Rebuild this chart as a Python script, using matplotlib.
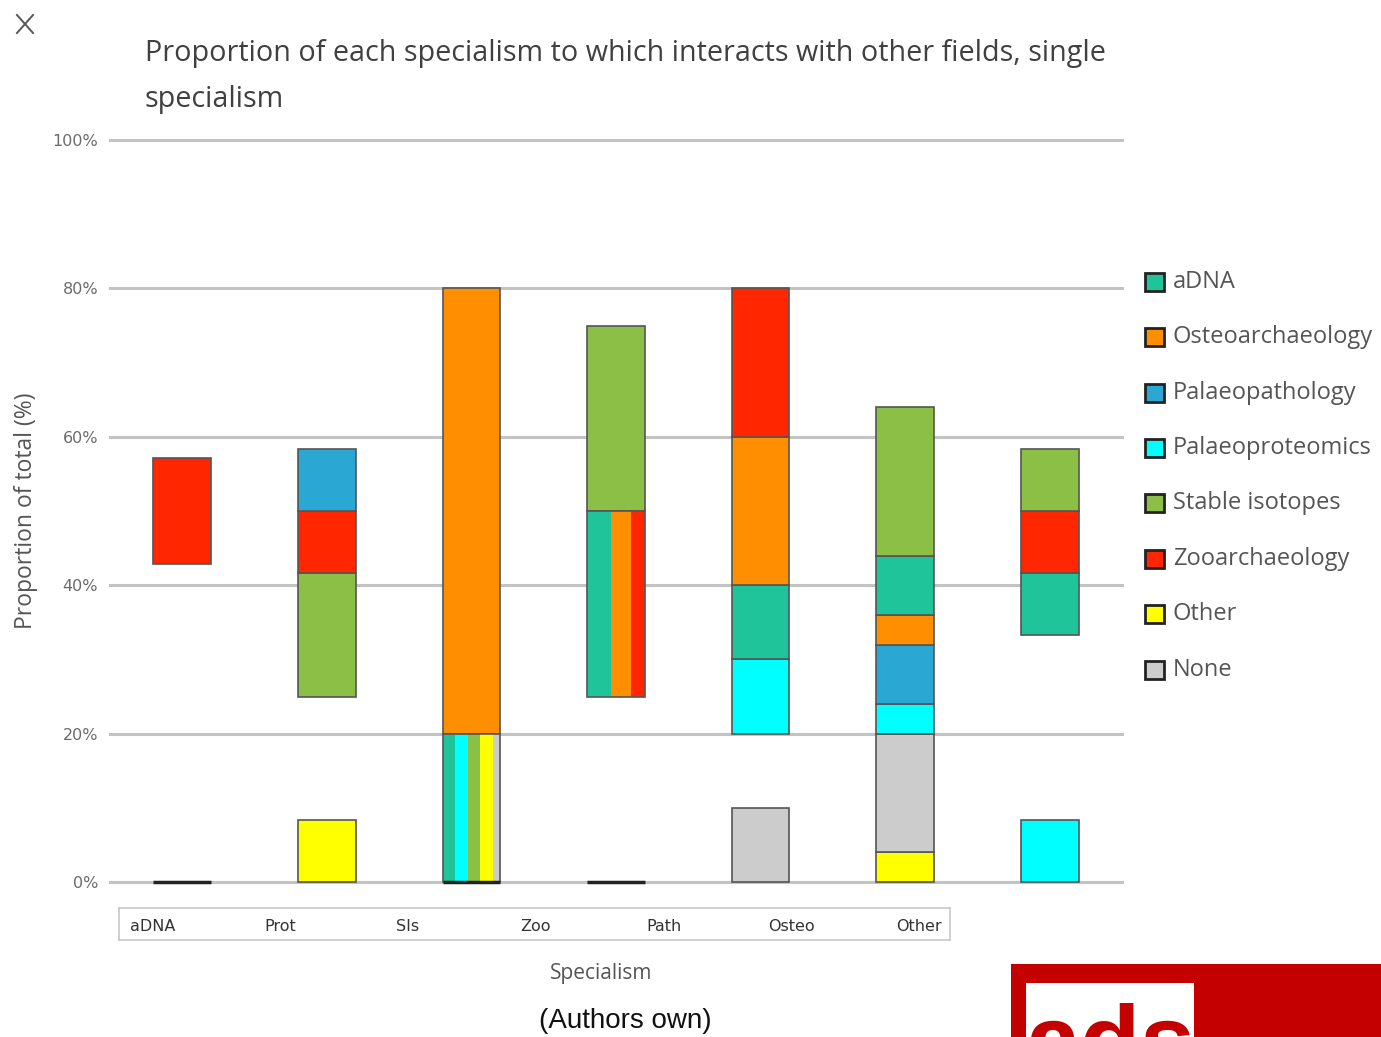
import matplotlib
matplotlib.use("Agg")
import matplotlib.pyplot as plt
from matplotlib.patches import Rectangle, Circle
from matplotlib.lines import Line2D

# ---- data -------------------------------------------------------------
specialisms = ["aDNA", "Prot", "SIs", "Zoo", "Path", "Osteo", "Other"]

series_names = ["aDNA", "Osteoarchaeology", "Palaeopathology", "Palaeoproteomics",
                "Stable isotopes", "Zooarchaeology", "Other", "None"]
series_colors = ["#1fc49a", "#ff8f00", "#2ba7d3", "#00ffff",
                 "#8cbf45", "#ff2600", "#ffff00", "#cccccc"]

# stacked segments per bar: (series, lower %, upper %)
bar_adna = [("Zooarchaeology", 42.86, 57.14)]
bar_prot = [("Other", 0, 8.33), ("Stable isotopes", 25, 41.67),
            ("Zooarchaeology", 41.67, 50), ("Palaeopathology", 50, 58.33)]
bar_sis = [("Osteoarchaeology", 20, 80)]
bar_zoo = [("Stable isotopes", 50, 75)]
bar_path = [("None", 0, 10), ("Palaeoproteomics", 20, 30), ("aDNA", 30, 40),
            ("Osteoarchaeology", 40, 60), ("Zooarchaeology", 60, 80)]
bar_osteo = [("Other", 0, 4), ("None", 4, 20), ("Palaeoproteomics", 20, 24),
             ("Palaeopathology", 24, 32), ("Osteoarchaeology", 32, 36),
             ("aDNA", 36, 44), ("Stable isotopes", 44, 64)]
bar_other = [("Palaeoproteomics", 0, 8.33), ("aDNA", 33.33, 41.67),
             ("Zooarchaeology", 41.67, 50), ("Stable isotopes", 50, 58.33)]
stacks = [bar_adna, bar_prot, bar_sis, bar_zoo, bar_path, bar_osteo, bar_other]

# shared ranges split side by side: (bar index, lower %, upper %, series, relative widths)
split_sis = (2, 0, 20, ["aDNA", "Palaeoproteomics", "Stable isotopes", "Other", "None"],
             [12, 13, 12, 13, 7])
split_zoo = (3, 25, 50, ["aDNA", "Osteoarchaeology", "Zooarchaeology"], [24, 20, 14])
splits = [split_sis, split_zoo]

# bars carrying an empty (0 %) entry
zero_bars = [0, 3]

yticks = [0, 20, 40, 60, 80, 100]
ytick_labels = ["0%", "20%", "40%", "60%", "80%", "100%"]

# ---- figure -----------------------------------------------------------
W, H = 1381, 1037
fig = plt.figure(figsize=(W / 100, H / 100), dpi=100)
fig.patch.set_facecolor("white")


def fx(x):
    return x / W


def fy(y):
    return 1 - y / H


colors = dict(zip(series_names, series_colors))
edge = "#555555"
bw = 0.4

ax = fig.add_axes([fx(110), fy(882), (1122 - 110) / W, (882 - 140) / H])
ax.set_xlim(-0.5, 6.5)
ax.set_ylim(0, 100)
ax.set_yticks(yticks)
ax.set_yticklabels(ytick_labels)
ax.set_xticks([])
ax.yaxis.grid(True, color="#c3c3c3", lw=2.2)
ax.set_axisbelow(True)
for gl in ax.get_ygridlines():
    gl.set_clip_on(False)
for s in ax.spines.values():
    s.set_visible(False)
ax.tick_params(axis="y", length=0, pad=8.5, labelsize=11.5, labelcolor="#6b6b6b")
for lab in ax.get_yticklabels():
    lab.set_family("DejaVu Sans")

for i, segs in enumerate(stacks):
    for name, lo, hi in segs:
        ax.bar(i, hi - lo, bottom=lo, width=bw, color=colors[name],
               edgecolor=edge, lw=1.2, clip_on=False, zorder=3)

for i, lo, hi, names, weights in splits:
    total = sum(weights)
    left = i - bw / 2
    for name, w in zip(names, weights):
        ww = bw * w / total
        ax.bar(left, hi - lo, bottom=lo, width=ww, align="edge",
               color=colors[name], edgecolor="none", clip_on=False, zorder=3)
        left += ww
    ax.bar(i, hi - lo, bottom=lo, width=bw, fill=False, edgecolor=edge,
           lw=1.2, clip_on=False, zorder=4)

for i in zero_bars + [2]:
    ax.bar(i, 0, width=bw, edgecolor="#222222", lw=2.5, clip_on=False, zorder=5)

# category box under the plot
bx = fig.add_axes([fx(119), fy(940), (950 - 119) / W, (940 - 908) / H])
bx.set_xlim(0, 6.5)
bx.set_ylim(0, 1)
bx.set_xticks([])
bx.set_yticks([])
for s in bx.spines.values():
    s.set_color("#c8c8c8")
    s.set_linewidth(1.2)
for k, name in enumerate(specialisms):
    bx.text(k + 0.26, 0.42, name, ha="center", va="center", fontsize=11.5,
            color="#333333", family=["Liberation Sans Narrow", "DejaVu Sans"])

# texts
title_font = ["Open Sans", "DejaVu Sans"]
fig.text(fx(145), fy(53), "Proportion of each specialism to which interacts with other fields, single",
         ha="left", va="center", fontsize=20.7, color="#404040", family=title_font)
fig.text(fx(145), fy(100), "specialism", ha="left", va="center", fontsize=20.7,
         color="#404040", family=title_font)
fig.text(fx(26), fy(511), "Proportion of total (%)", rotation=90, ha="center", va="center",
         fontsize=16.5, color="#555555", family=title_font)
fig.text(fx(601), fy(973), "Specialism", ha="center", va="center", fontsize=15,
         color="#555555", family=title_font)
fig.text(fx(625), fy(1021), "(Authors own)", ha="center", va="center", fontsize=20,
         color="#111111", family=["Liberation Sans", "DejaVu Sans"])

# legend
leg_y = [282, 337, 393, 448, 503, 559, 614, 670]
for name, col, y in zip(series_names, series_colors, leg_y):
    fig.add_artist(Rectangle((fx(1145), fy(y + 9)), 19 / W, 18 / H, facecolor=col,
                             edgecolor="#222222", lw=2, transform=fig.transFigure))
    fig.text(fx(1173), fy(y), name, ha="left", va="center", fontsize=17,
             color="#555555", family=title_font)

# close mark
fig.add_artist(Line2D([fx(17), fx(33)], [fy(15), fy(33)], color="#555555", lw=1.4))
fig.add_artist(Line2D([fx(17), fx(33)], [fy(33), fy(15)], color="#555555", lw=1.4))

# logo
fig.add_artist(Rectangle((fx(1011), 0), (W - 1011) / W, (1037 - 964) / H,
                         facecolor="#c40000", edgecolor="none", transform=fig.transFigure))
fig.add_artist(Rectangle((fx(1026), 0), (1194 - 1026) / W, (1037 - 983) / H,
                         facecolor="white", edgecolor="none", transform=fig.transFigure))
fig.text(fx(1025), fy(1074), "ads", ha="left", va="baseline", fontsize=71,
         fontweight="bold", color="#c40000", family=["Liberation Sans", "DejaVu Sans"])

fig.add_artist(Circle((fx(-20), fy(1060)), 35.5 / W, facecolor="#2a5aa8",
                      edgecolor="none", transform=fig.transFigure))

fig.savefig("out.png", dpi=100, facecolor="white")
